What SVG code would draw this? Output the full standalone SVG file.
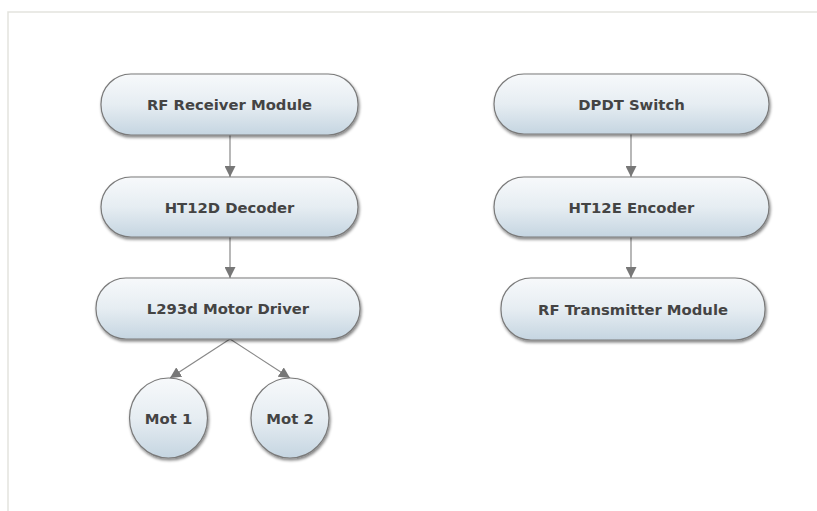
<svg xmlns="http://www.w3.org/2000/svg" width="817" height="511" viewBox="0 0 817 511">
<defs>
<linearGradient id="g" x1="0" y1="0" x2="0" y2="1">
<stop offset="0" stop-color="#f7f9fb"/>
<stop offset="0.5" stop-color="#e6edf2"/>
<stop offset="1" stop-color="#c5d5e1"/>
</linearGradient>
<filter id="sh" x="-20%" y="-20%" width="140%" height="150%">
<feGaussianBlur in="SourceAlpha" stdDeviation="1.5"/>
<feOffset dx="1" dy="2" result="b"/>
<feComponentTransfer><feFuncA type="linear" slope="0.5"/></feComponentTransfer>
<feMerge><feMergeNode/><feMergeNode in="SourceGraphic"/></feMerge>
</filter>
<marker id="ah" viewBox="0 0 10 10" refX="10" refY="5" markerWidth="11" markerHeight="11" markerUnits="userSpaceOnUse" orient="auto">
<path d="M0,0 L10,5 L0,10 z" fill="#777"/>
</marker>
</defs>
<style>
.n{fill:url(#g);stroke:#7a7a7a;stroke-width:1.2;filter:url(#sh)}
.t{font-family:"DejaVu Sans",Verdana,sans-serif;font-weight:bold;font-size:14.8px;fill:#444;text-anchor:middle;dominant-baseline:central}
.c{stroke:#888;stroke-width:1.2;fill:none;marker-end:url(#ah)}
</style>
<rect width="817" height="511" fill="#fff"/>
<path d="M8,511 V12 H817" fill="none" stroke="#e3e3de" stroke-width="1.5"/>
<g id="connectors">
<line class="c" x1="230" y1="135" x2="230" y2="177"/>
<line class="c" x1="230" y1="237" x2="230" y2="278"/>
<line class="c" x1="230" y1="339" x2="170" y2="378"/>
<line class="c" x1="230" y1="339" x2="290" y2="378"/>
<line class="c" x1="631" y1="134" x2="631" y2="177"/>
<line class="c" x1="631" y1="237" x2="631" y2="278"/>
</g>
<g id="rf-receiver"><rect class="n" x="101" y="74" width="257" height="61" rx="30"/><text class="t" x="229.5" y="104.5">RF Receiver Module</text></g>
<g id="ht12d"><rect class="n" x="101" y="177" width="257" height="60" rx="30"/><text class="t" x="229.5" y="207">HT12D Decoder</text></g>
<g id="l293d"><rect class="n" x="96" y="278" width="264" height="61" rx="30"/><text class="t" x="228" y="308.5">L293d Motor Driver</text></g>
<g id="mot1"><ellipse class="n" cx="168.5" cy="418" rx="39" ry="40"/><text class="t" x="168.5" y="418">Mot 1</text></g>
<g id="mot2"><ellipse class="n" cx="290" cy="418" rx="39" ry="40"/><text class="t" x="290" y="418">Mot 2</text></g>
<g id="dpdt"><rect class="n" x="494" y="74" width="275" height="60" rx="30"/><text class="t" x="631.5" y="104">DPDT Switch</text></g>
<g id="ht12e"><rect class="n" x="494" y="177" width="275" height="60" rx="30"/><text class="t" x="631.5" y="207">HT12E Encoder</text></g>
<g id="rf-transmitter"><rect class="n" x="501" y="278" width="264" height="62" rx="30"/><text class="t" x="633" y="309">RF Transmitter Module</text></g>
</svg>
